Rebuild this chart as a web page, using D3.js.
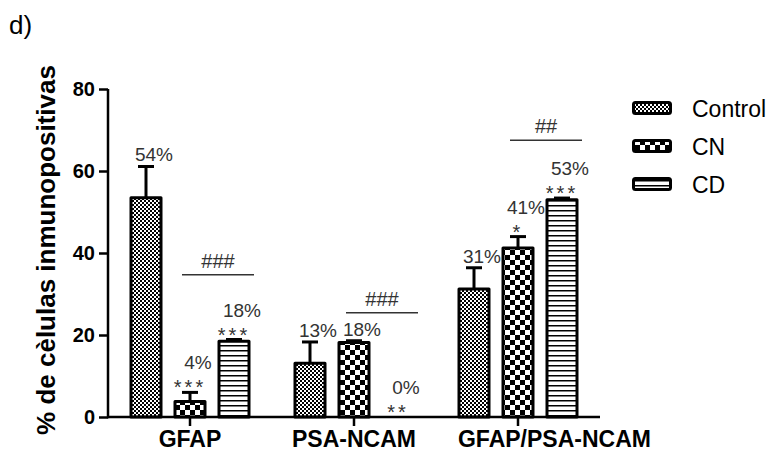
<!DOCTYPE html>
<html>
<head>
<meta charset="utf-8">
<script src="https://cdn.jsdelivr.net/npm/d3@7"></script>
<style>
  html, body { margin: 0; padding: 0; background: #fff; }
  svg { display: block; font-family: "Liberation Sans", Arial, sans-serif; }
</style>
</head>
<body>
<svg id="chart" width="775" height="453"></svg>
<script>
// ---- data ----
const groups = ["GFAP", "PSA-NCAM", "GFAP/PSA-NCAM"];
const series = ["Control", "CN", "CD"];
const controlMean = [53.5, 13.1, 31.2];
const controlSEM  = [7.6, 5.2, 5.2];
const cnMean      = [3.8, 18.2, 41.2];
const cnSEM       = [2.2, 0.4, 2.8];
const cdMean      = [18.5, 0, 53.0];
const cdSEM       = [0.4, 0, 0.4];
const pctLabels   = [["54%", "4%", "18%"], ["13%", "18%", "0%"], ["31%", "41%", "53%"]];
const starLabels  = [["", "***", "***"], ["", "", "**"], ["", "*", "***"]];
const hashLabels  = ["###", "###", "##"];
const hashLevel   = [34.7, 25.4, 67.5];
const yTicks      = [0, 20, 40, 60, 80];

const means = [controlMean, cnMean, cdMean];
const sems = [controlSEM, cnSEM, cdSEM];
const data = [];
groups.forEach((g, gi) => series.forEach((s, si) => {
  data.push({ group: g, gi, series: s, si, mean: means[si][gi], sem: sems[si][gi],
              pct: pctLabels[gi][si], stars: starLabels[gi][si] });
}));

const svg = d3.select("#chart");
const x0 = d3.scaleBand().domain(groups).range([108, 600]).paddingInner(0).paddingOuter(0);
const x1 = d3.scaleBand().domain(series).range([-66, 66]).paddingInner(0.25).paddingOuter(0.125);
const y = d3.scaleLinear().domain([0, 80]).range([417, 89]);

// ---- patterns ----
const defs = svg.append("defs");
const pCtrl = defs.append("pattern").attr("id", "pCtrl").attr("patternUnits", "userSpaceOnUse")
  .attr("width", 4).attr("height", 4);
pCtrl.append("rect").attr("width", 4).attr("height", 4).attr("fill", "#fff");
pCtrl.append("rect").attr("width", 2).attr("height", 2).attr("fill", "#000");
pCtrl.append("rect").attr("x", 2).attr("y", 2).attr("width", 2).attr("height", 2).attr("fill", "#000");

const pCN = defs.append("pattern").attr("id", "pCN").attr("patternUnits", "userSpaceOnUse")
  .attr("width", 10).attr("height", 10);
pCN.append("rect").attr("width", 10).attr("height", 10).attr("fill", "#fff");
pCN.append("rect").attr("width", 5).attr("height", 5).attr("fill", "#000");
pCN.append("rect").attr("x", 5).attr("y", 5).attr("width", 5).attr("height", 5).attr("fill", "#000");

const pCD = defs.append("pattern").attr("id", "pCD").attr("patternUnits", "userSpaceOnUse")
  .attr("width", 5).attr("height", 5);
pCD.append("rect").attr("width", 5).attr("height", 5).attr("fill", "#fff");
pCD.append("rect").attr("y", 0).attr("width", 5).attr("height", 1.5).attr("fill", "#000");

const fills = { Control: "url(#pCtrl)", CN: "url(#pCN)", CD: "url(#pCD)" };

// ---- title ----
svg.append("text").attr("x", 9).attr("y", 34).attr("font-size", 26).attr("fill", "#000").text("d)");

// ---- bars ----
const bx = d => x0(d.group) + x0.bandwidth() / 2 + x1(d.series);
const bc = d => bx(d) + x1.bandwidth() / 2;

const barG = svg.append("g");
barG.selectAll("rect.bar").data(data.filter(d => d.mean > 0)).join("rect")
  .attr("class", "bar")
  .attr("x", d => bx(d) + 1.5)
  .attr("y", d => y(d.mean))
  .attr("width", x1.bandwidth() - 3)
  .attr("height", d => y(0) - y(d.mean))
  .attr("fill", d => fills[d.series])
  .attr("stroke", "#000").attr("stroke-width", 3).attr("stroke-linejoin", "round");

// ---- error bars ----
const errG = svg.append("g").attr("stroke", "#000").attr("stroke-width", 3);
errG.selectAll("line.stem").data(data.filter(d => d.sem > 0)).join("line")
  .attr("x1", bc).attr("x2", bc)
  .attr("y1", d => y(d.mean)).attr("y2", d => y(d.mean + d.sem));
errG.selectAll("line.cap").data(data.filter(d => d.sem > 0)).join("line")
  .attr("x1", d => bc(d) - 8).attr("x2", d => bc(d) + 8)
  .attr("y1", d => y(d.mean + d.sem)).attr("y2", d => y(d.mean + d.sem));

// ---- axes ----
const yAxis = svg.append("g").attr("transform", "translate(108,0)")
  .call(d3.axisLeft(y).tickValues(yTicks).tickSize(9).tickPadding(4));
yAxis.select(".domain").attr("stroke-width", 2.5).attr("d", `M0,${y(80)}V${y(0) + 1.25}`);
yAxis.selectAll(".tick line").attr("stroke-width", 2.5);
yAxis.selectAll(".tick text").attr("font-size", 20).attr("font-weight", "bold")
  .attr("font-family", "Liberation Sans, Arial, sans-serif").attr("fill", "#000");

const xAxis = svg.append("g").attr("transform", `translate(0,${y(0)})`)
  .call(d3.axisBottom(x0).tickSize(9).tickPadding(8));
xAxis.select(".domain").attr("stroke-width", 2.5).attr("d", `M108,0H600`);
xAxis.selectAll(".tick line").attr("stroke-width", 2.5);
const xt = xAxis.selectAll(".tick text").attr("font-size", 23).attr("font-weight", "bold")
  .attr("font-family", "Liberation Sans, Arial, sans-serif").attr("fill", "#000")
  .attr("y", 30).attr("dy", 0);
// keep category labels from crowding: each starts at least a gap after the previous one
let prevEnd = -Infinity;
xt.each(function (d) {
  const w = this.getComputedTextLength();
  const cx = x0(d) + x0.bandwidth() / 2;
  const start = Math.max(cx - w / 2, prevEnd + 42);
  d3.select(this).attr("x", start + w / 2 - cx);
  prevEnd = start + w;
});

// ---- y axis title ----
svg.append("text")
  .attr("transform", `translate(55,${(60 + 440) / 2}) rotate(-90)`)
  .attr("text-anchor", "middle").attr("font-size", 26).attr("font-weight", "bold")
  .text("% de cèlulas inmunopositivas");

// ---- percent + significance labels ----
const errTop = d => y(d.mean + d.sem);
const lblG = svg.append("g").attr("fill", "#333").attr("font-size", 19);
lblG.selectAll("text.pct").data(data).join("text")
  .attr("x", d => bc(d) + 8)
  .attr("y", d => errTop(d) - (d.stars ? 23 : 5))
  .attr("text-anchor", "middle").text(d => d.pct);
lblG.selectAll("text.star").data(data.filter(d => d.stars)).join("text")
  .attr("x", d => bc(d))
  .attr("y", d => errTop(d) + 2)
  .attr("text-anchor", "middle").attr("font-size", 20).attr("letter-spacing", 3)
  .text(d => d.stars);

// ---- hash brackets ----
const hashG = svg.append("g");
groups.forEach((g, gi) => {
  const xa = x0(g) + x0.bandwidth() / 2 + x1("CN") + x1.bandwidth() / 2 - 8;
  const xb = x0(g) + x0.bandwidth() / 2 + x1("CD") + x1.bandwidth() / 2 + 20;
  const yy = y(hashLevel[gi]);
  hashG.append("line").attr("x1", xa).attr("x2", xb).attr("y1", yy).attr("y2", yy)
    .attr("stroke", "#333").attr("stroke-width", 1.5);
  hashG.append("text").attr("x", (xa + xb) / 2).attr("y", yy - 7)
    .attr("text-anchor", "middle").attr("font-size", 20).attr("fill", "#333").text(hashLabels[gi]);
});

// ---- legend ----
const leg = svg.append("g");
series.forEach((s, i) => {
  const cy = 108 + i * 38;
  leg.append("rect").attr("x", 633.5).attr("y", cy - 5.5).attr("width", 37).attr("height", 11)
    .attr("rx", 2).attr("fill", fills[s]).attr("stroke", "#000").attr("stroke-width", 3);
  leg.append("text").attr("x", 692).attr("y", cy + 9).attr("font-size", 23).attr("fill", "#000").text(s);
});
</script>
</body>
</html>
